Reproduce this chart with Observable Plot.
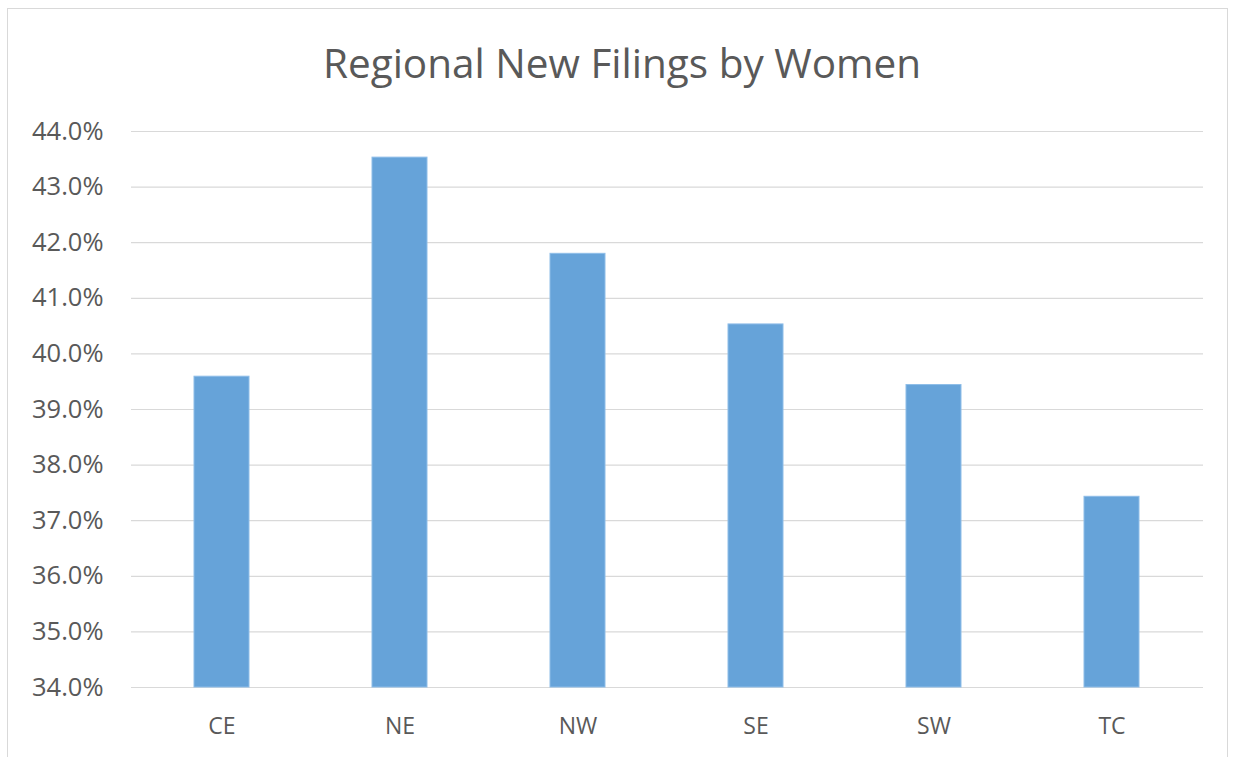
<!DOCTYPE html>
<html>
<head>
<meta charset="utf-8">
<script src="https://cdn.jsdelivr.net/npm/d3@7"></script>
<script src="https://cdn.jsdelivr.net/npm/@observablehq/plot@0.6"></script>
<style>
  html, body { margin: 0; padding: 0; background: #fff; }
  #wrap { position: relative; width: 1236px; height: 757px; overflow: hidden; background: #fff; }
  #frame { position: absolute; left: 7px; top: 8px; width: 1221px; height: 760px; border: 1.5px solid #d9d9d9; box-sizing: border-box; }
  #title { position: absolute; left: 0; top: 35px; width: 1244px; text-align: center; font-family: "Open Sans", sans-serif; font-size: 40.5px; color: #595959; line-height: 56px; }
  #chart { position: absolute; left: 0; top: 0; }
  #chart svg text { font-family: "Open Sans", sans-serif; }
</style>
</head>
<body>
<div id="wrap">
  <div id="frame"></div>
  <div id="title">Regional New Filings by Women</div>
  <div id="chart"></div>
</div>
<script>
const regions = ["CE", "NE", "NW", "SE", "SW", "TC"];
const shares = [39.59, 43.53, 41.80, 40.53, 39.44, 37.43];
const yTicks = [34, 35, 36, 37, 38, 39, 40, 41, 42, 43, 44];

const data = regions.map((r, i) => ({region: r, share: shares[i]}));

const chart = Plot.plot({
  width: 1236,
  height: 757,
  marginTop: 131,
  marginBottom: 70,
  marginLeft: 131,
  marginRight: 33,
  style: {background: "transparent", fontSize: "23px", color: "#595959", fontFamily: "Open Sans, sans-serif"},
  x: {domain: regions, paddingInner: 0.69, paddingOuter: 0.345, label: null, tickSize: 0, tickPadding: 30},
  y: {domain: [34, 44], ticks: yTicks, label: null, tickSize: 0, tickPadding: 28,
      tickFormat: d => d.toFixed(1) + "%"},
  marks: [
    Plot.gridY(yTicks, {stroke: "#d9d9d9", strokeOpacity: 1, strokeWidth: 1.2}),
    Plot.barY(data, {x: "region", y1: 34, y2: "share", fill: "#66a3d9", stroke: "#8ebde8", strokeWidth: 1}),
    Plot.axisY({ticks: yTicks, tickSize: 0, tickPadding: 28, tickFormat: d => d.toFixed(1) + "%", label: null, fontSize: 25.5, fill: "#595959"}),
    Plot.axisX({tickSize: 0, tickPadding: 30, label: null, fontSize: 23, fill: "#595959"})
  ]
});
document.getElementById("chart").appendChild(chart);
</script>
</body>
</html>
